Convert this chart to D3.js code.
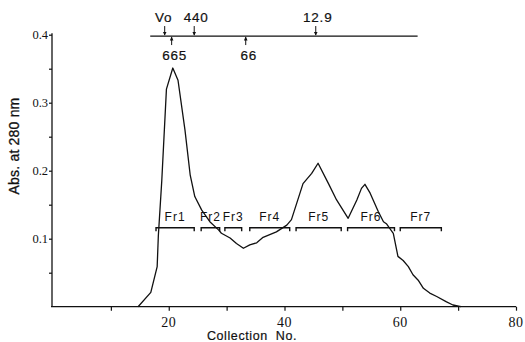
<!DOCTYPE html>
<html>
<head>
<meta charset="utf-8">
<script src="https://cdn.jsdelivr.net/npm/d3@7"></script>
<style>
  body { margin: 0; background: #fff; }
  svg { display: block; }
  .serif { font-family: "Liberation Serif", "DejaVu Serif", serif; }
  .sans { font-family: "Liberation Sans", Arial, sans-serif; }
</style>
</head>
<body>
<svg id="chart"></svg>
<script>
// elution profile
const collection = [14.7, 16.9, 18.0, 18.2, 18.8, 19.6, 20.7, 21.6, 22.8, 23.7, 24.5, 25.7, 27.1, 28.6, 29.1,
  30.6, 31.7, 32.9, 34.0, 35.2, 36.3, 38.6, 40.4, 41.2, 43.2, 44.7, 45.8, 47.6, 49.0, 51.0, 52.5, 53.3,
  53.9, 54.8, 56.2, 57.1, 57.6, 58.8, 59.6, 60.5, 61.4, 62.2, 63.1, 64.0, 65.1, 66.3, 68.0, 69.1, 70.5];
const absorbance = [0, 0.021, 0.059, 0.104, 0.186, 0.320, 0.351, 0.333, 0.260, 0.194, 0.162, 0.142, 0.125, 0.113, 0.108,
  0.101, 0.093, 0.086, 0.091, 0.094, 0.102, 0.110, 0.120, 0.128, 0.181, 0.196, 0.211, 0.181, 0.157, 0.130, 0.157, 0.174,
  0.180, 0.167, 0.140, 0.125, 0.122, 0.108, 0.074, 0.068, 0.059, 0.047, 0.039, 0.027, 0.020, 0.015, 0.007, 0.0025, 0];

// pooled fractions
const fractions = ["Fr1", "Fr2", "Fr3", "Fr4", "Fr5", "Fr6", "Fr7"];
const fracStart = [17.8, 25.6, 29.7, 34.0, 42.0, 50.9, 60.0];
const fracEnd = [24.4, 28.8, 32.6, 40.9, 49.8, 59.0, 67.1];
const fracLevel = 0.116;

// molecular weight markers (kDa) along the calibration bar
const markerRange = [16.8, 63.0];
const markerLevel = 0.398;
const aboveNames = ["Vo", "440", "12.9"];
const abovePos = [19.3, 24.4, 45.4];
const belowNames = ["665", "66"];
const belowPos = [20.5, 33.3];

const xTicks = [10, 20, 30, 40, 50, 60, 70, 80];
const xLabels = [20, 40, 60, 80];
const yTicks = [0.05, 0.1, 0.15, 0.2, 0.25, 0.3, 0.35, 0.4];
const yLabels = [0.1, 0.2, 0.3, 0.4];

const W = 525, H = 342;
const margin = { left: 52, right: 9, top: 34.7, bottom: 35.3 };

const svg = d3.select("#chart").attr("width", W).attr("height", H);

const x = d3.scaleLinear().domain([0, 80]).range([margin.left + 1, W - margin.right]);
const y = d3.scaleLinear().domain([0, 0.4]).range([H - margin.bottom, margin.top]);

const ink = "#111";

// axes
const xAxis = svg.append("g")
  .attr("transform", "translate(0," + y(0) + ")")
  .call(d3.axisBottom(x).tickValues(xTicks).tickSize(4).tickFormat(""));
xAxis.select(".domain").attr("d", "M" + (margin.left - 1) + ",0H" + x(80)).attr("stroke", ink).attr("stroke-width", 1.3);
xAxis.selectAll(".tick line").attr("stroke", ink).attr("stroke-width", 1.2);

svg.append("g").selectAll("text")
  .data(xLabels)
  .enter().append("text")
  .attr("class", "serif")
  .attr("x", d => x(d))
  .attr("y", y(0) + 20)
  .attr("text-anchor", "middle")
  .style("font-size", "14px")
  .style("letter-spacing", "0.5px")
  .attr("fill", ink)
  .text(d => d);

const yAxis = svg.append("g")
  .attr("transform", "translate(" + margin.left + ",0)")
  .call(d3.axisLeft(y).tickValues(yTicks).tickSize(3).tickFormat(""));
yAxis.select(".domain").attr("d", "M0," + (y(0.4) - 1.5) + "V" + y(0)).attr("stroke", ink).attr("stroke-width", 1.3);
yAxis.selectAll(".tick line").attr("stroke", ink).attr("stroke-width", 1.2);

svg.append("g").selectAll("text")
  .data(yLabels)
  .enter().append("text")
  .attr("class", "serif")
  .attr("x", margin.left - 4)
  .attr("y", d => y(d) + 4)
  .attr("text-anchor", "end")
  .style("font-size", "12.5px")
  .attr("fill", ink)
  .text(d => d.toFixed(1));

svg.append("text")
  .attr("class", "sans")
  .attr("transform", "translate(19,146) rotate(-90)")
  .attr("text-anchor", "middle")
  .style("font-size", "14px")
  .style("letter-spacing", "0.2px")
  .attr("fill", ink)
  .attr("stroke", ink)
  .attr("stroke-width", 0.3)
  .text("Abs. at 280 nm");

svg.append("text")
  .attr("class", "sans")
  .attr("x", 252)
  .attr("y", 340)
  .attr("text-anchor", "middle")
  .style("font-size", "12.5px")
  .style("letter-spacing", "0.6px")
  .style("word-spacing", "4px")
  .attr("fill", ink)
  .attr("stroke", ink)
  .attr("stroke-width", 0.2)
  .text("Collection No.");

// curve
const line = d3.line()
  .x((d, i) => x(collection[i]))
  .y(d => y(d));

svg.append("path")
  .datum(absorbance)
  .attr("fill", "none")
  .attr("stroke", ink)
  .attr("stroke-width", 1.3)
  .attr("stroke-linejoin", "round")
  .attr("d", line);

// fraction brackets
const fr = svg.append("g");
fractions.forEach((name, i) => {
  const x0 = x(fracStart[i]), x1 = x(fracEnd[i]), yy = y(fracLevel);
  fr.append("path")
    .attr("d", "M" + x0 + "," + (yy + 3.5) + "V" + yy + "H" + x1 + "V" + (yy + 3.5))
    .attr("fill", "none")
    .attr("stroke", ink)
    .attr("stroke-width", 1.4);
  fr.append("text")
    .attr("class", "sans")
    .attr("x", (x0 + x1) / 2)
    .attr("y", yy - 7)
    .attr("text-anchor", "middle")
    .style("font-size", "12px")
    .style("letter-spacing", "1px")
    .attr("fill", ink)
    .text(name);
});

// marker bar
const my = y(markerLevel);
const mk = svg.append("g");
mk.append("line")
  .attr("x1", x(markerRange[0])).attr("x2", x(markerRange[1]))
  .attr("y1", my).attr("y2", my)
  .attr("stroke", ink).attr("stroke-width", 1.2);

aboveNames.forEach((name, i) => {
  const px = x(abovePos[i]);
  mk.append("line").attr("x1", px).attr("x2", px).attr("y1", my - 10).attr("y2", my - 1)
    .attr("stroke", ink).attr("stroke-width", 1);
  mk.append("path").attr("d", "M" + (px - 1.8) + "," + (my - 4) + "L" + px + "," + (my - 0.5) + "L" + (px + 1.8) + "," + (my - 4) + "Z")
    .attr("fill", ink);
  mk.append("text")
    .attr("class", "sans")
    .attr("x", px + (name === "Vo" ? -1 : 2))
    .attr("y", my - 14)
    .attr("text-anchor", "middle")
    .style("font-size", "13.5px")
    .style("letter-spacing", "0.8px")
    .attr("fill", ink)
    .attr("stroke", ink)
    .attr("stroke-width", 0.2)
    .text(name);
});

belowNames.forEach((name, i) => {
  const px = x(belowPos[i]);
  mk.append("line").attr("x1", px).attr("x2", px).attr("y1", my + 1).attr("y2", my + 9)
    .attr("stroke", ink).attr("stroke-width", 1);
  mk.append("path").attr("d", "M" + (px - 1.8) + "," + (my + 4.5) + "L" + px + "," + (my + 0.5) + "L" + (px + 1.8) + "," + (my + 4.5) + "Z")
    .attr("fill", ink);
  mk.append("text")
    .attr("class", "sans")
    .attr("x", px + 3)
    .attr("y", my + 24)
    .attr("text-anchor", "middle")
    .style("font-size", "13.5px")
    .style("letter-spacing", "0.8px")
    .attr("fill", ink)
    .attr("stroke", ink)
    .attr("stroke-width", 0.2)
    .text(name);
});
</script>
</body>
</html>
